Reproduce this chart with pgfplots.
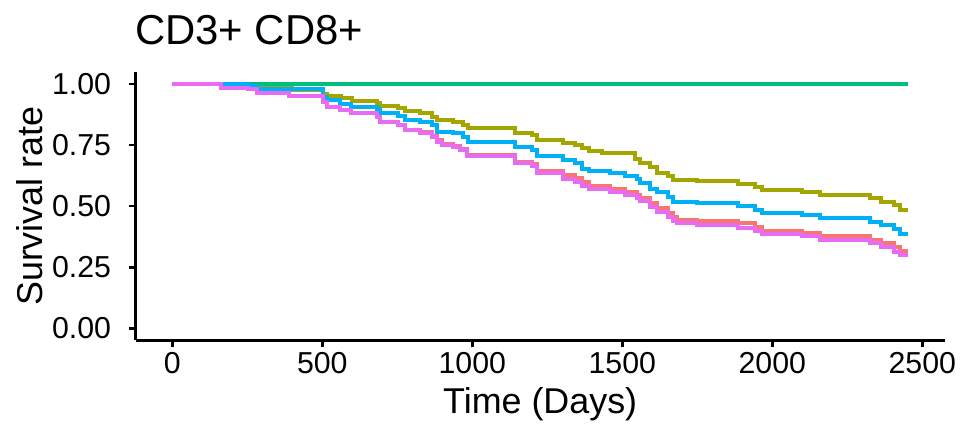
\documentclass[border=0pt]{standalone}
\usepackage{pgfplots}
\pgfplotsset{compat=1.18}
\usepackage{fontspec}
\setmainfont{Liberation Sans}
\definecolor{cR}{HTML}{F8766D}
\definecolor{cO}{HTML}{A3A500}
\definecolor{cG}{HTML}{00BF7D}
\definecolor{cB}{HTML}{00B0F6}
\definecolor{cM}{HTML}{E76BF3}
\begin{document}
\begin{tikzpicture}
\path[use as bounding box] (0,0) rectangle (480bp,216bp);
\begin{axis}[
  at={(67.75bp,45.75bp)}, anchor=south west,
  scale only axis, width=404.75bp, height=134.35bp,
  xmin=-122.65, xmax=2575.65, ymin=-0.05, ymax=1.05,
  axis lines*=left,
  axis line style={line width=1.35bp, black, -},
  xtick={0,500,1000,1500,2000,2500},
  xticklabels={0,500,1000,1500,2000,2500},
  ytick={0,0.25,0.5,0.75,1},
  yticklabels={0.00,0.25,0.50,0.75,1.00},
  tick align=outside, major tick length=3.5bp,
  tick style={line width=1.35bp, black},
  /pgf/number format/assume math mode=true,
  tick label style={font=\fontsize{15.2}{18}\selectfont, black},
  yticklabel style={anchor=east, inner sep=0pt, xshift=-8.55bp},
  xticklabel style={anchor=base, inner sep=0pt, yshift=-13.05bp},
  every axis plot/.append style={const plot, line width=2bp, line join=miter},
]
% red
\addplot[cR] coordinates {(0,1.0) (162,0.985) (253,0.978) (283,0.964) (390,0.951) (503,0.928) (515,0.906) (559,0.893) (595,0.880) (681,0.866) (692,0.846) (753,0.832) (776,0.811) (826,0.802) (865,0.789) (881,0.769) (898,0.755) (937,0.748) (959,0.735) (981,0.711) (1142,0.682) (1198,0.672) (1215,0.645) (1302,0.627) (1342,0.614) (1365,0.598) (1389,0.584) (1459,0.571) (1509,0.559) (1548,0.546) (1560,0.534) (1592,0.512) (1615,0.491) (1653,0.470) (1670,0.455) (1681,0.443) (1748,0.440) (1887,0.429) (1942,0.415) (1965,0.399) (2098,0.391) (2159,0.377) (2326,0.361) (2361,0.348) (2406,0.334) (2424,0.317) (2453,0.317)};
% olive
\addplot[cO] coordinates {(0,1.0) (253,0.988) (398,0.975) (503,0.958) (515,0.952) (562,0.941) (598,0.930) (681,0.923) (692,0.910) (753,0.900) (776,0.889) (826,0.880) (865,0.866) (881,0.852) (937,0.845) (970,0.832) (987,0.821) (1142,0.798) (1198,0.790) (1215,0.770) (1302,0.760) (1342,0.750) (1365,0.736) (1389,0.727) (1431,0.716) (1542,0.695) (1560,0.675) (1592,0.660) (1615,0.634) (1653,0.625) (1670,0.609) (1748,0.602) (1887,0.590) (1942,0.580) (1965,0.566) (2098,0.557) (2159,0.545) (2326,0.532) (2361,0.518) (2406,0.504) (2424,0.484) (2453,0.484)};
% green
\addplot[cG] coordinates {(0,1.0) (2453,1.0)};
% blue
\addplot[cB] coordinates {(0,1.0) (253,0.990) (283,0.978) (503,0.945) (515,0.934) (559,0.918) (595,0.907) (681,0.898) (692,0.880) (753,0.869) (776,0.852) (826,0.845) (865,0.832) (881,0.805) (937,0.798) (970,0.784) (987,0.764) (1142,0.743) (1198,0.730) (1215,0.705) (1302,0.690) (1342,0.675) (1365,0.654) (1389,0.645) (1459,0.634) (1509,0.622) (1548,0.613) (1560,0.593) (1592,0.572) (1615,0.559) (1653,0.538) (1670,0.518) (1748,0.511) (1887,0.500) (1942,0.486) (1965,0.470) (2098,0.463) (2159,0.450) (2326,0.436) (2361,0.422) (2406,0.405) (2424,0.387) (2453,0.387)};
% magenta
\addplot[cM] coordinates {(0,1.0) (162,0.985) (253,0.978) (283,0.964) (390,0.951) (503,0.928) (515,0.906) (559,0.893) (595,0.880) (681,0.866) (692,0.846) (753,0.832) (776,0.811) (826,0.798) (865,0.784) (881,0.764) (898,0.750) (937,0.743) (959,0.730) (981,0.705) (1142,0.675) (1198,0.664) (1215,0.634) (1302,0.613) (1342,0.600) (1365,0.584) (1389,0.570) (1459,0.557) (1509,0.545) (1548,0.532) (1560,0.520) (1592,0.498) (1615,0.477) (1653,0.456) (1670,0.440) (1681,0.429) (1748,0.422) (1887,0.410) (1942,0.400) (1965,0.385) (2098,0.377) (2159,0.363) (2326,0.348) (2361,0.332) (2406,0.314) (2424,0.299) (2453,0.299)};
\end{axis}
\node[anchor=base west, inner sep=0pt, font=\fontsize{21}{21}\selectfont] at (67.4bp,193.5bp) {CD3+ CD8+};
\node[anchor=base, inner sep=0pt, font=\fontsize{18}{18}\selectfont] at (270.1bp,9.35bp) {Time (Days)};
\node[anchor=base, rotate=90, inner sep=0pt, font=\fontsize{18}{18}\selectfont] at (21.35bp,112.9bp) {Survival rate};
\end{tikzpicture}
\end{document}
